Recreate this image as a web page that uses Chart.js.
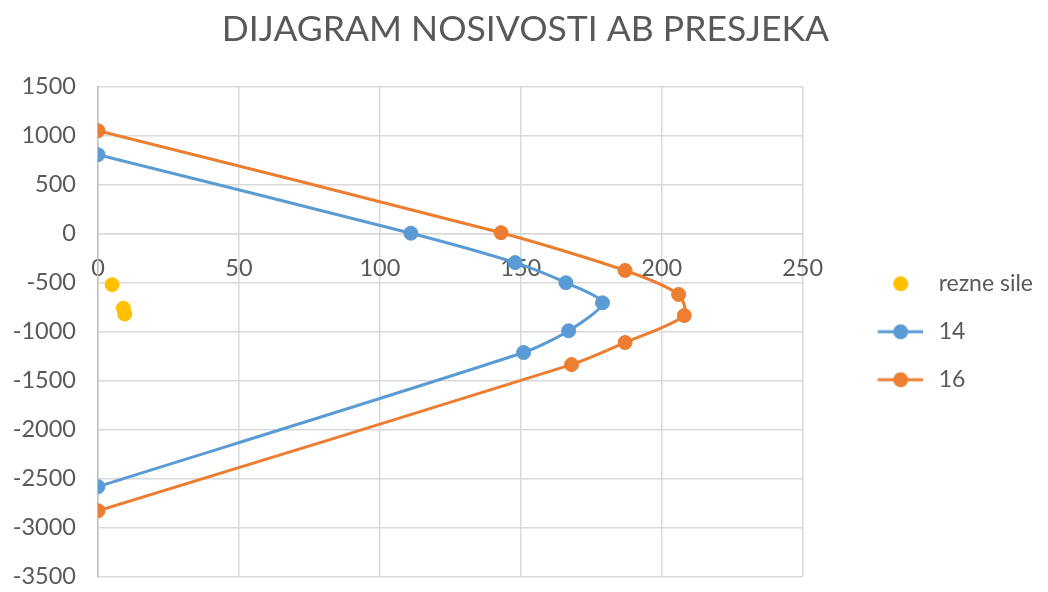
<!DOCTYPE html>
<html>
<head>
<meta charset="utf-8">
<script src="https://cdn.jsdelivr.net/npm/chart.js@4/dist/chart.umd.min.js"></script>
<style>
  html, body { margin: 0; padding: 0; background: #fff; }
  #wrap { width: 1048px; height: 592px; }
</style>
</head>
<body>
<div id="wrap"><canvas id="chart"></canvas></div>
<script>
// rezne sile
const sileX = [5, 9, 9.5];
const sileY = [-520, -760, -820];

// presjek 14
const x14 = [0, 111, 148, 166, 179, 167, 151, 0];
const y14 = [806, 5, -295, -500, -705, -990, -1212, -2580];

// presjek 16
const x16 = [0, 143, 187, 206, 208, 187, 168, 0];
const y16 = [1050, 10, -375, -620, -835, -1110, -1335, -2825];

const textColor = "#595959";
const gridColor = "#d9d9d9";
const fontFamily = "Lato, 'Open Sans', sans-serif";
const tickFont = {family: fontFamily, size: 23.5};

function points(xs, ys) {
    return xs.map((x, i) => ({x: x, y: ys[i]}));
}

// legend symbol: short line with a dot, shifted right inside the image
function legendIcon(color, withLine, shift) {
    let c = document.createElement("canvas");
    let w = 46;
    c.width = 2 * (shift + w / 2);
    c.height = 18;
    let ctx = c.getContext("2d");
    let x0 = c.width / 2 + shift - w / 2;
    if (withLine) {
        ctx.strokeStyle = color;
        ctx.lineWidth = 3;
        ctx.beginPath();
        ctx.moveTo(x0, 9);
        ctx.lineTo(x0 + w, 9);
        ctx.stroke();
    }
    ctx.fillStyle = color;
    ctx.beginPath();
    ctx.arc(x0 + w / 2, 9, 7.5, 0, Math.PI * 2);
    ctx.fill();
    return c;
}

const legendPad = 25;
const legendFont = 23;
const boxW = 938 - (802 + legendPad) - legendFont / 2;
const iconShift = 900 - (802 + legendPad + boxW / 2);

const icons = [
    legendIcon("#ffc000", false, iconShift),
    legendIcon("#5b9bd5", true, iconShift),
    legendIcon("#ed7d31", true, iconShift)
];

new Chart(document.getElementById("chart"), {
    type: "scatter",
    data: {
        datasets: [
            {
                label: "rezne sile",
                data: points(sileX, sileY),
                showLine: false,
                backgroundColor: "#ffc000",
                borderColor: "#ffc000",
                pointRadius: 7,
                borderWidth: 1
            },
            {
                label: "14",
                data: points(x14, y14),
                showLine: true,
                tension: 0.25,
                borderColor: "#5b9bd5",
                backgroundColor: "#5b9bd5",
                borderWidth: 3,
                pointRadius: 7,
                pointBorderWidth: 1
            },
            {
                label: "16",
                data: points(x16, y16),
                showLine: true,
                tension: 0.25,
                borderColor: "#ed7d31",
                backgroundColor: "#ed7d31",
                borderWidth: 3,
                pointRadius: 7,
                pointBorderWidth: 1
            }
        ]
    },
    options: {
        responsive: true,
        maintainAspectRatio: false,
        animation: false,
        layout: {
            padding: {left: 8, right: 5, top: 0, bottom: 0}
        },
        plugins: {
            tooltip: {enabled: false},
            title: {
                display: true,
                text: "DIJAGRAM NOSIVOSTI AB PRESJEKA",
                color: textColor,
                font: {family: fontFamily, size: 35.5, weight: "normal"},
                padding: {top: 8, bottom: 36}
            },
            legend: {
                position: "right",
                fullSize: false,
                labels: {
                    color: textColor,
                    font: {family: fontFamily, size: legendFont},
                    padding: legendPad,
                    usePointStyle: true,
                    pointStyleWidth: boxW,
                    generateLabels: (chart) => {
                        return chart.data.datasets.map((ds, i) => ({
                            text: ds.label,
                            datasetIndex: i,
                            pointStyle: icons[i],
                            fontColor: textColor,
                            lineWidth: 0,
                            hidden: false
                        }));
                    }
                }
            }
        },
        scales: {
            x: {
                type: "linear",
                position: {y: 0},
                min: 0,
                max: 250,
                ticks: {
                    stepSize: 50,
                    color: textColor,
                    padding: 21,
                    font: tickFont
                },
                grid: {color: gridColor, lineWidth: 1.5, drawTicks: false},
                border: {color: gridColor, width: 1.5}
            },
            y: {
                min: -3500,
                max: 1500,
                afterFit: (scale) => { scale.width = 90; },
                ticks: {
                    stepSize: 500,
                    color: textColor,
                    padding: 1,
                    font: tickFont,
                    callback: (v) => String(v)
                },
                grid: {color: gridColor, lineWidth: 1.5, drawTicks: true, tickLength: 21, tickColor: "transparent"},
                border: {color: "#bfbfbf", width: 1.5}
            }
        }
    }
});
</script>
</body>
</html>
